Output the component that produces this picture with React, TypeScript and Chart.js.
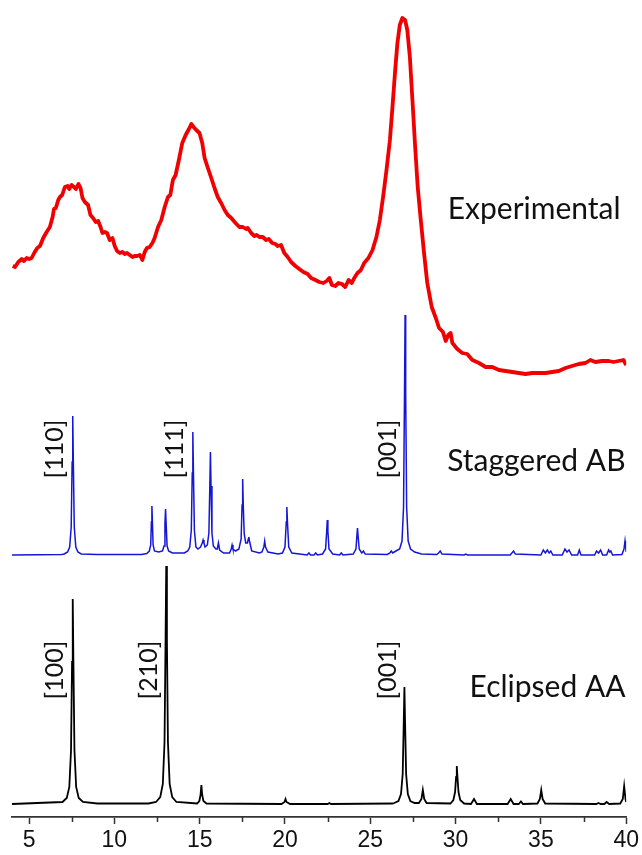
import React, { useEffect, useRef } from "react";
import { Chart, registerables } from "chart.js";

Chart.register(...registerables);

// 2θ axis
const X_MIN = 4;
const X_MAX = 40;
const MAJOR_TICKS = [5, 10, 15, 20, 25, 30, 35, 40];
const MINOR_TICKS = [7.5, 12.5, 17.5, 22.5, 27.5, 32.5, 37.5];

// Experimental pattern (offset intensity, arbitrary units)
const experimental: [number, number][] = [
  [4.04,551],[4.18,550],[4.37,555],[4.57,558],[4.70,556],[4.86,559],[5.01,558],[5.15,559],[5.30,564],[5.48,569],
  [5.64,571],[5.83,579],[6.03,585],[6.22,590],[6.38,600],[6.46,608],[6.57,609],[6.71,617],[6.81,620],[6.94,622],
  [7.10,630],[7.26,631],[7.35,628],[7.49,632],[7.63,630],[7.74,628],[7.90,633],[8.02,629],[8.13,619],[8.27,615],
  [8.46,612],[8.60,602],[8.75,599],[8.91,595],[9.05,596],[9.19,590],[9.30,584],[9.44,585],[9.57,584],[9.73,577],
  [9.89,579],[10.02,571],[10.16,566],[10.32,564],[10.47,565],[10.61,563],[10.74,564],[10.90,562],[11.06,560],[11.19,561],
  [11.33,561],[11.49,562],[11.64,557],[11.78,565],[11.91,569],[12.07,570],[12.23,574],[12.36,579],[12.56,590],[12.75,597],
  [12.95,610],[13.14,620],[13.28,622],[13.43,637],[13.59,642],[13.78,657],[13.98,674],[14.18,682],[14.37,688],[14.51,693],
  [14.64,690],[14.80,687],[14.99,684],[15.15,674],[15.29,659],[15.48,649],[15.68,639],[15.87,629],[16.06,620],[16.26,614],
  [16.46,607],[16.65,602],[16.85,599],[17.10,594],[17.33,590],[17.53,590],[17.72,588],[17.82,589],[18.02,584],[18.21,581],
  [18.34,582],[18.50,580],[18.70,580],[18.89,577],[19.05,578],[19.25,574],[19.44,573],[19.57,571],[19.77,572],[19.96,564],
  [20.16,560],[20.36,555],[20.61,551],[20.84,548],[21.08,545],[21.33,543],[21.53,539],[21.78,537],[22.01,535],[22.25,534],
  [22.44,536],[22.60,539],[22.75,532],[22.95,531],[23.14,534],[23.34,533],[23.53,530],[23.73,537],[23.92,534],[24.06,539],
  [24.25,544],[24.45,547],[24.64,554],[24.89,559],[25.13,567],[25.36,580],[25.56,597],[25.75,620],[25.95,647],[26.15,677],
  [26.30,710],[26.46,747],[26.59,774],[26.73,792],[26.88,799],[27.04,797],[27.17,787],[27.32,760],[27.47,717],[27.63,670],
  [27.78,630],[27.96,597],[28.15,564],[28.34,534],[28.60,510],[28.84,499],[29.03,489],[29.26,485],[29.42,476],[29.57,482],
  [29.71,484],[29.81,474],[30.10,468],[30.39,464],[30.68,463],[30.98,457],[31.37,454],[31.76,450],[32.15,450],[32.54,447],
  [32.93,446],[33.32,445],[33.71,444],[34.10,443],[34.49,444],[34.88,444],[35.27,444],[35.66,445],[36.05,446],[36.44,449],
  [36.82,451],[37.22,453],[37.61,454],[37.90,457],[38.19,455],[38.58,456],[38.97,456],[39.26,455],[39.55,456],[39.84,457],
  [40.0,452]
];

// Simulated Staggered AB pattern (offset)
const staggeredAB: [number, number][] = [
  [4,262],[6.9,262.5],
  [7.06,263],[7.26,265],[7.38,270],[7.47,290],[7.525,355],[7.56,401],[7.595,355],[7.65,290],[7.74,270],[7.86,265],[8.06,263],
  [9,262.5],[11.6,262.5],
  [11.9,263.5],[12.05,266],[12.13,272],[12.17,295],[12.2,311],[12.23,295],[12.27,272],[12.35,266],
  [12.6,265],[12.82,266],[12.91,271],[12.965,293],[13.0,308],[13.035,293],[13.09,271],[13.18,266],[13.4,264],
  [14.1,264],[14.3,266],[14.42,270],[14.51,287],[14.565,344],[14.6,385],[14.635,344],[14.69,287],[14.78,270],[14.9,268],
  [15.05,270],[15.15,274],[15.2,277],[15.25,274],[15.32,270],
  [15.45,272],[15.54,284],[15.595,331],[15.63,365],[15.665,331],[15.72,284],[15.8,271],[15.95,268],
  [16.03,268],[16.1,274],[16.17,267],[16.4,264],
  [16.75,264],[16.85,268],[16.9,272],[16.95,268],[17.1,266],
  [17.3,268],[17.43,278],[17.485,312],[17.52,338],[17.555,312],[17.61,283],[17.7,274],
  [17.8,274],[17.85,278],[17.88,280],[17.92,276],[18.05,266],[18.5,264],
  [18.65,265],[18.76,270],[18.81,276],[18.86,270],[19.0,265],[19.6,263],
  [19.85,264],[20.0,270],[20.075,295],[20.11,310],[20.145,295],[20.22,270],[20.4,264],
  [21.3,262],[21.4,264],[21.5,262],[21.7,262],[21.8,264],[21.9,262],
  [22.2,263],[22.38,268],[22.445,286],[22.48,297],[22.515,286],[22.58,268],[22.8,263],
  [23.2,262],[23.3,264],[23.4,262],
  [24.0,263],[24.16,268],[24.215,281],[24.25,289],[24.285,281],[24.35,268],[24.5,264],[24.6,266],[24.7,263],
  [26.0,262.5],[26.15,264],[26.23,266],[26.32,264],
  [26.5,266],[26.72,268],[26.86,276],[26.95,310],[27.005,423],[27.04,502],[27.075,423],[27.13,310],[27.22,276],[27.36,268],[27.6,265],[28.0,263],
  [28.9,262.5],[29.0,264],[29.1,266],[29.2,263],
  [30.5,262],[30.6,263],[30.7,262],
  [33.2,262],[33.3,264],[33.4,266],[33.5,263],
  [35.0,262],[35.14,267],[35.26,264],[35.38,267],[35.48,264],[35.58,266],[35.7,262],
  [36.25,262],[36.41,268],[36.53,265],[36.65,267],[36.8,262],
  [37.15,262],[37.25,267],[37.35,262],
  [38.15,262],[38.26,266],[38.38,264],[38.5,267],[38.62,262],
  [38.85,262],[38.97,267],[39.04,265],[39.1,266],[39.2,262],
  [39.75,262.5],[39.87,268],[39.93,276],[39.98,268],[40,265]
];

// Simulated Eclipsed AA pattern (offset)
const eclipsedAA: [number, number][] = [
  [4,13],
  [6.96,15],[7.21,19],[7.36,30],[7.46,67],[7.52,155],[7.56,218],[7.60,155],[7.66,67],[7.76,30],[7.91,19],[8.16,15],[9,13.5],
  [12,13.5],
  [12.44,15],[12.69,20],[12.84,33],[12.94,75],[13.00,177],[13.04,251],[13.08,177],[13.14,75],[13.24,33],[13.39,20],[13.64,15],
  [14.85,13.5],[14.98,16],[15.05,22],[15.1,32],[15.15,22],[15.22,16],[15.4,13.5],
  [19.8,13],[19.97,15],[20.03,18],[20.09,15],[20.3,13],
  [22.5,13],[22.6,14],[22.7,13],
  [26.3,13.5],
  [26.4,14],[26.65,16],[26.8,23],[26.9,43],[26.96,94],[27.0,130],[27.04,94],[27.1,43],[27.2,23],[27.35,16],[27.6,14],
  [27.85,14],[28.0,18],[28.08,27],[28.16,18],[28.3,14],
  [29.7,13.5],[29.87,17],[29.97,25],[30.03,40],[30.07,51],[30.11,40],[30.17,25],[30.27,17],[30.5,13.5],
  [30.9,13],[31.08,18],[31.25,13],
  [33.05,13],[33.23,18],[33.4,13],
  [33.7,13],[33.83,15.5],[33.95,13],
  [34.8,13.5],[34.94,18],[35.02,27],[35.1,18],[35.25,13.5],
  [38.25,13],[38.37,14],[38.5,13],
  [38.72,13],[38.85,15],[39.0,13],
  [39.65,13.5],[39.8,18],[39.88,31],[39.96,18],[40,15]
];

// Series name labels: [text, right-edge x, centre y]
const seriesLabels: [string, number, number][] = [
  ["Experimental", 39.67, 608],
  ["Staggered AB", 39.96, 356],
  ["Eclipsed AA", 39.96, 130],
];

// Reflection labels: [text, centre x, centre y]
const peakLabels: [string, number, number][] = [
  ["[110]", 6.5, 368],
  ["[111]", 13.55, 368],
  ["[001]", 26.02, 368],
  ["[100]", 6.5, 147],
  ["[210]", 12.02, 147],
  ["[001]", 26.02, 147],
];

const toPts = (arr: [number, number][]) => arr.map(([x, y]) => ({ x, y }));

const annotationsPlugin = {
  id: "xrdAnnotations",
  afterDatasetsDraw(chart: any) {
    const { ctx, scales } = chart;
    const xs = scales.x;
    const ys = scales.y;
    ctx.save();
    ctx.fillStyle = "#111";
    ctx.font = '30px Lato';
    ctx.textAlign = "right";
    ctx.textBaseline = "middle";
    for (const [t, x, y] of seriesLabels) {
      ctx.fillText(t, xs.getPixelForValue(x), ys.getPixelForValue(y));
    }
    ctx.font = '25px Lato';
    ctx.textAlign = "center";
    for (const [t, x, y] of peakLabels) {
      ctx.save();
      ctx.translate(xs.getPixelForValue(x), ys.getPixelForValue(y));
      ctx.rotate(-Math.PI / 2);
      ctx.fillText(t, 0, 0);
      ctx.restore();
    }
    // minor ticks
    ctx.strokeStyle = "#333";
    ctx.lineWidth = 1.5;
    const yb = chart.chartArea.bottom;
    for (const v of MINOR_TICKS) {
      const px = Math.round(xs.getPixelForValue(v)) + 0.5;
      ctx.beginPath();
      ctx.moveTo(px, yb);
      ctx.lineTo(px, yb + 5);
      ctx.stroke();
    }
    ctx.restore();
  },
};

export default function App() {
  const canvasRef = useRef<HTMLCanvasElement | null>(null);

  useEffect(() => {
    if (!canvasRef.current) return;
    const chart = new Chart(canvasRef.current, {
      type: "line",
      data: {
        datasets: [
          {
            label: "Experimental",
            data: toPts(experimental),
            borderColor: "#f00000",
            borderWidth: 3.8,
            pointRadius: 0,
            tension: 0,
            borderJoinStyle: "round",
          },
          {
            label: "Staggered AB",
            data: toPts(staggeredAB),
            borderColor: "#1515d8",
            borderWidth: 1.5,
            pointRadius: 0,
            tension: 0,
          },
          {
            label: "Eclipsed AA",
            data: toPts(eclipsedAA),
            borderColor: "#000000",
            borderWidth: 1.8,
            pointRadius: 0,
            tension: 0,
          },
        ],
      },
      options: {
        animation: false,
        responsive: false,
        maintainAspectRatio: false,
        layout: { padding: { left: 12, right: 14, top: 7, bottom: 0 } },
        plugins: {
          legend: { display: false },
          tooltip: { enabled: false },
        },
        scales: {
          x: {
            type: "linear",
            min: X_MIN,
            max: X_MAX,
            afterFit: (scale: any) => {
              scale.height = 38;
            },
            afterBuildTicks: (scale: any) => {
              scale.ticks = MAJOR_TICKS.map((v) => ({ value: v }));
            },
            border: { display: true, color: "#333", width: 1.8 },
            grid: {
              display: true,
              drawOnChartArea: false,
              drawTicks: true,
              tickLength: 7,
              tickWidth: 1.5,
              tickColor: "#333",
            },
            ticks: {
              color: "#111",
              font: { family: "Liberation Sans", size: 23 },
              padding: 3,
              maxRotation: 0,
              autoSkip: false,
              includeBounds: false,
            },
          },
          y: {
            display: false,
            min: 0,
            max: 810,
          },
        },
      },
      plugins: [annotationsPlugin],
    });
    return () => chart.destroy();
  }, []);

  return (
    <div style={{ position: "absolute", left: 0, top: 0, width: 642, height: 855, background: "#fff" }}>
      <canvas ref={canvasRef} width={642} height={855} style={{ width: 642, height: 855 }} />
    </div>
  );
}
